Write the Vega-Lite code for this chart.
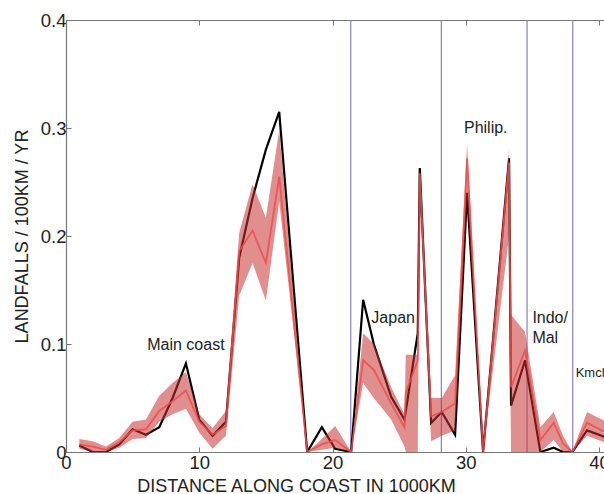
{
  "$schema": "https://vega.github.io/schema/vega-lite/v6.json",
  "width": 538,
  "height": 432,
  "autosize": {"type": "none"},
  "padding": {"left": 66, "top": 20, "right": 0, "bottom": 42},
  "config": {
    "view": {"stroke": null},
    "font": "Liberation Sans",
    "axis": {"grid": false, "domainColor": "#777", "tickColor": "#777", "labelColor": "#222", "titleColor": "#222", "labelFont": "Liberation Sans", "titleFont": "Liberation Sans", "labelFontSize": 18.5, "titleFontSize": 18, "titleFontWeight": "normal", "domainWidth": 1.2, "labelOverlap": false}
  },
  "datasets": {
    "series": [
      {"x": 1, "black": 0.006, "red": 0.007, "lo": 0.003, "hi": 0.012},
      {"x": 2, "black": 0.0, "red": 0.005, "lo": 0.0, "hi": 0.010},
      {"x": 3, "black": 0.0, "red": 0.002, "lo": 0.0, "hi": 0.005},
      {"x": 4, "black": 0.007, "red": 0.009, "lo": 0.004, "hi": 0.013},
      {"x": 5, "black": 0.021, "red": 0.020, "lo": 0.012, "hi": 0.028},
      {"x": 6, "black": 0.016, "red": 0.021, "lo": 0.013, "hi": 0.030},
      {"x": 7, "black": 0.023, "red": 0.038, "lo": 0.028, "hi": 0.052},
      {"x": 8, "black": 0.050, "red": 0.047, "lo": 0.035, "hi": 0.064},
      {"x": 9, "black": 0.082, "red": 0.057, "lo": 0.040, "hi": 0.074},
      {"x": 10, "black": 0.030, "red": 0.028, "lo": 0.018, "hi": 0.035},
      {"x": 11, "black": 0.015, "red": 0.016, "lo": 0.003, "hi": 0.022},
      {"x": 12, "black": 0.028, "red": 0.024, "lo": 0.015, "hi": 0.038},
      {"x": 13, "black": 0.180, "red": 0.186, "lo": 0.145, "hi": 0.203},
      {"x": 14, "black": 0.235, "red": 0.205, "lo": 0.175, "hi": 0.248},
      {"x": 15, "black": 0.280, "red": 0.175, "lo": 0.140, "hi": 0.217},
      {"x": 16, "black": 0.315, "red": 0.255, "lo": 0.232, "hi": 0.298},
      {"x": 18.1, "black": 0.0, "red": 0.0, "lo": 0.0, "hi": 0.0},
      {"x": 19.2, "black": 0.023, "red": 0.007, "lo": 0.002, "hi": 0.012},
      {"x": 20.2, "black": 0.003, "red": 0.011, "lo": 0.004, "hi": 0.024},
      {"x": 21.4, "black": 0.0, "red": 0.0, "lo": 0.0, "hi": 0.0},
      {"x": 22.3, "black": 0.141, "red": 0.085, "lo": 0.064, "hi": 0.110},
      {"x": 23.1, "black": 0.100, "red": 0.076, "lo": 0.050, "hi": 0.100},
      {"x": 24.4, "black": 0.051, "red": 0.045, "lo": 0.030, "hi": 0.060},
      {"x": 25.4, "black": 0.030, "red": 0.023, "lo": 0.005, "hi": 0.035},
      {"x": 25.5, "black": 0.038, "red": 0.055, "lo": 0.0, "hi": 0.090},
      {"x": 26.4, "black": 0.110, "red": 0.085, "lo": 0.0, "hi": 0.090},
      {"x": 26.55, "black": 0.263, "red": 0.258, "lo": 0.248, "hi": 0.265},
      {"x": 27.4, "black": 0.027, "red": 0.033, "lo": 0.010, "hi": 0.050},
      {"x": 28.2, "black": 0.037, "red": 0.037, "lo": 0.015, "hi": 0.050},
      {"x": 29.2, "black": 0.016, "red": 0.045, "lo": 0.020, "hi": 0.071},
      {"x": 30.1, "black": 0.240, "red": 0.272, "lo": 0.235, "hi": 0.285},
      {"x": 31.3, "black": 0.0, "red": 0.0, "lo": 0.0, "hi": 0.0},
      {"x": 33.25, "black": 0.272, "red": 0.268, "lo": 0.200, "hi": 0.280},
      {"x": 33.4, "black": 0.043, "red": 0.060, "lo": 0.0, "hi": 0.127},
      {"x": 34.45, "black": 0.085, "red": 0.094, "lo": 0.0, "hi": 0.111},
      {"x": 35.6, "black": 0.0, "red": 0.011, "lo": 0.0, "hi": 0.023},
      {"x": 36.6, "black": 0.004, "red": 0.027, "lo": 0.011, "hi": 0.037},
      {"x": 37.3, "black": 0.0, "red": 0.008, "lo": 0.0, "hi": 0.015},
      {"x": 38.0, "black": 0.0, "red": 0.0, "lo": 0.0, "hi": 0.0},
      {"x": 39.1, "black": 0.020, "red": 0.027, "lo": 0.015, "hi": 0.037},
      {"x": 40.2, "black": 0.015, "red": 0.020, "lo": 0.010, "hi": 0.030},
      {"x": 41, "black": 0.010, "red": 0.015, "lo": 0.005, "hi": 0.025}
    ],
    "dividers": [{"x": 21.37}, {"x": 28.17}, {"x": 34.6}, {"x": 38.03}],
    "centerLabels": [
      {"x": 9.0, "y": 0.099, "label": "Main coast"},
      {"x": 24.55, "y": 0.124, "label": "Japan"},
      {"x": 31.5, "y": 0.300, "label": "Philip."}
    ],
    "leftLabels": [
      {"x": 35.0, "y": 0.124, "label": "Indo/"},
      {"x": 35.0, "y": 0.106, "label": "Mal"}
    ],
    "smallLabels": [
      {"x": 38.25, "y": 0.073, "label": "Kmchtk."}
    ]
  },
  "layer": [
    {
      "data": {"name": "dividers"},
      "mark": {"type": "rule", "color": "#8282c4", "strokeWidth": 1.2},
      "encoding": {
        "x": {"field": "x", "type": "quantitative", "scale": {"domain": [0, 40.375], "nice": false, "zero": false},
              "axis": {"orient": "bottom", "values": [0, 10, 20, 30, 40], "tickSize": -5, "labelPadding": 6, "title": "DISTANCE ALONG COAST IN 1000KM", "titleX": 230, "titleY": 25, "titleAnchor": "middle", "titleAlign": "center", "titleBaseline": "top", "labelFlush": false}}
      }
    },
    {
      "data": {"name": "series"},
      "mark": {"type": "line", "color": "#000000", "strokeWidth": 2.2, "clip": true},
      "encoding": {
        "x": {"field": "x", "type": "quantitative", "axis": {"orient": "top", "values": [0, 10, 20, 30, 40], "tickSize": -5, "labels": false, "title": null}},
        "y": {"field": "black", "type": "quantitative", "scale": {"domain": [0, 0.4], "nice": false},
              "axis": {"values": [0, 0.1, 0.2, 0.3, 0.4], "tickSize": -5, "labelPadding": 5, "title": "LANDFALLS / 100KM / YR", "titlePadding": 9, "labelExpr": "datum.value == 0 ? '0' : format(datum.value, '.1f')"}}
      }
    },
    {
      "data": {"name": "series"},
      "mark": {"type": "area", "color": "#c83232", "opacity": 0.55, "clip": true},
      "encoding": {
        "x": {"field": "x", "type": "quantitative", "axis": null},
        "y": {"field": "lo", "type": "quantitative", "axis": null},
        "y2": {"field": "hi"}
      }
    },
    {
      "data": {"name": "series"},
      "mark": {"type": "line", "color": "#ee4c4c", "strokeWidth": 1.8, "opacity": 0.85, "clip": true},
      "encoding": {
        "x": {"field": "x", "type": "quantitative", "axis": null},
        "y": {"field": "red", "type": "quantitative", "axis": null}
      }
    },
    {
      "data": {"name": "centerLabels"},
      "mark": {"type": "text", "font": "Liberation Sans", "fontSize": 16, "color": "#222", "baseline": "middle", "align": "center"},
      "encoding": {
        "x": {"field": "x", "type": "quantitative", "axis": null},
        "y": {"field": "y", "type": "quantitative", "axis": null},
        "text": {"field": "label"}
      }
    },
    {
      "data": {"name": "leftLabels"},
      "mark": {"type": "text", "font": "Liberation Sans", "fontSize": 16, "color": "#222", "baseline": "middle", "align": "left"},
      "encoding": {
        "x": {"field": "x", "type": "quantitative", "axis": null},
        "y": {"field": "y", "type": "quantitative", "axis": null},
        "text": {"field": "label"}
      }
    },
    {
      "data": {"name": "smallLabels"},
      "mark": {"type": "text", "font": "Liberation Sans", "fontSize": 13, "color": "#222", "baseline": "middle", "align": "left"},
      "encoding": {
        "x": {"field": "x", "type": "quantitative", "axis": null},
        "y": {"field": "y", "type": "quantitative", "axis": null},
        "text": {"field": "label"}
      }
    }
  ],
  "resolve": {"axis": {"x": "independent", "y": "independent"}}
}
